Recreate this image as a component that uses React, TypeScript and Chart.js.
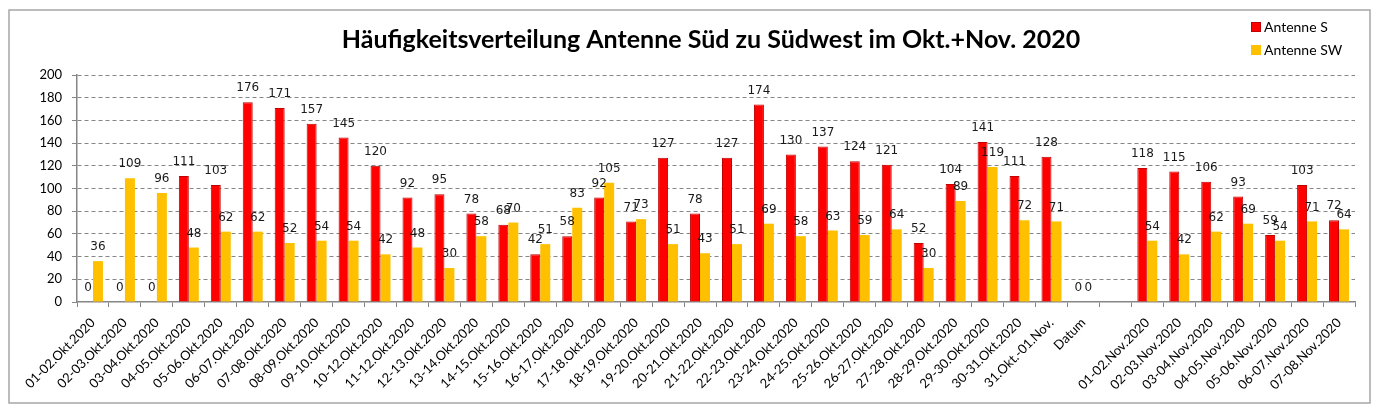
import { useEffect, useRef } from "react";
import { Chart, registerables } from "chart.js";

Chart.register(...registerables);

const TITLE = "Häufigkeitsverteilung Antenne Süd zu Südwest im Okt.+Nov. 2020";

const categories = [
  "01-02.Okt.2020", "02-03.Okt.2020", "03-04.Okt.2020", "04-05.Okt.2020", "05-06.Okt.2020",
  "06-07.Okt.2020", "07-08.Okt.2020", "08-09.Okt.2020", "09-10.Okt.2020", "10-12.Okt.2020",
  "11-12.Okt.2020", "12-13.Okt.2020", "13-14.Okt.2020", "14-15.Okt.2020", "15-16.Okt.2020",
  "16-17.Okt.2020", "17-18.Okt.2020", "18-19.Okt.2020", "19-20.Okt.2020", "20-21.Okt.2020",
  "21-22.Okt.2020", "22-23.Okt.2020", "23-24.Okt.2020", "24-25.Okt.2020", "25-26.Okt.2020",
  "26-27.Okt.2020", "27-28.Okt.2020", "28-29.Okt.2020", "29-30.Okt.2020", "30-31.Okt.2020",
  "31.Okt.-01.Nov.", "Datum", "",
  "01-02.Nov.2020", "02-03.Nov.2020", "03-04.Nov.2020", "04-05.Nov.2020", "05-06.Nov.2020",
  "06-07.Nov.2020", "07-08.Nov.2020",
];

const antenneS: (number | null)[] = [
  0, 0, 0, 111, 103, 176, 171, 157, 145, 120,
  92, 95, 78, 68, 42, 58, 92, 71, 127, 78,
  127, 174, 130, 137, 124, 121, 52, 104, 141, 111,
  128, 0, null,
  118, 115, 106, 93, 59, 103, 72,
];

const antenneSW: (number | null)[] = [
  36, 109, 96, 48, 62, 62, 52, 54, 54, 42,
  48, 30, 58, 70, 51, 83, 105, 73, 51, 43,
  51, 69, 58, 63, 59, 64, 30, 89, 119, 72,
  71, 0, null,
  54, 42, 62, 69, 54, 71, 64,
];

const Y_MIN = 0;
const Y_MAX = 200;
const Y_STEP = 20;

const UI_FONT = "Lato, 'Open Sans', sans-serif";
const LABEL_FONT = "'DejaVu Sans', Verdana, sans-serif";
const AXIS_GRAY = "#868686";

// White page with a thin grey frame around the whole chart
const framePlugin = {
  id: "frame",
  beforeDraw(chart: Chart) {
    const { ctx, width, height } = chart;
    ctx.save();
    ctx.fillStyle = "#ffffff";
    ctx.fillRect(0, 0, width, height);
    ctx.strokeStyle = "#a6a6a6";
    ctx.lineWidth = 1.5;
    ctx.strokeRect(9, 10, width - 18, height - 17);
    ctx.restore();
  },
};

// Bold centred heading above the plot
const titlePlugin = {
  id: "heading",
  afterDraw(chart: Chart) {
    const { ctx } = chart;
    ctx.save();
    ctx.font = `bold 25px ${UI_FONT}`;
    ctx.fillStyle = "#000000";
    ctx.textAlign = "center";
    ctx.textBaseline = "middle";
    ctx.fillText(TITLE, 711, 40);
    ctx.restore();
  },
};

// Legend in the upper right corner, stacked vertically
const legendPlugin = {
  id: "cornerLegend",
  afterDraw(chart: Chart) {
    const { ctx } = chart;
    ctx.save();
    ctx.font = `14px ${UI_FONT}`;
    ctx.textBaseline = "middle";
    ctx.textAlign = "left";
    chart.data.datasets.forEach((ds: any, i: number) => {
      const y = 27 + i * 23;
      ctx.fillStyle = ds.backgroundColor;
      ctx.fillRect(1251, y - 5, 10, 10);
      if (ds.borderWidth) {
        ctx.strokeStyle = ds.borderColor;
        ctx.lineWidth = 1;
        ctx.strokeRect(1251.5, y - 4.5, 9, 9);
      }
      ctx.fillStyle = "#000000";
      ctx.fillText(ds.label, 1264, y);
    });
    ctx.restore();
  },
};

// Value written above each bar
const valueLabelPlugin = {
  id: "valueLabels",
  afterDatasetsDraw(chart: Chart) {
    const { ctx } = chart;
    ctx.save();
    ctx.font = `12px ${LABEL_FONT}`;
    ctx.fillStyle = "#1a1a1a";
    ctx.textAlign = "center";
    ctx.textBaseline = "middle";
    chart.data.datasets.forEach((ds: any, di: number) => {
      const meta = chart.getDatasetMeta(di);
      meta.data.forEach((bar: any, i: number) => {
        const v = ds.data[i];
        if (v === null || v === undefined) return;
        ctx.fillText(String(v), bar.x, bar.y - 14);
      });
    });
    ctx.restore();
  },
};

export default function App() {
  const canvasRef = useRef<HTMLCanvasElement | null>(null);

  useEffect(() => {
    document.body.style.margin = "0";
    const canvas = canvasRef.current;
    if (!canvas) return;

    const chart = new Chart(canvas, {
      type: "bar",
      data: {
        labels: categories,
        datasets: [
          {
            label: "Antenne S",
            data: antenneS,
            backgroundColor: "#ff0000",
            borderColor: "#c00000",
            borderWidth: 1,
            barPercentage: 1,
            categoryPercentage: 0.625,
          },
          {
            label: "Antenne SW",
            data: antenneSW,
            backgroundColor: "#ffc000",
            borderWidth: 0,
            barPercentage: 1,
            categoryPercentage: 0.625,
          },
        ],
      },
      options: {
        responsive: false,
        animation: false,
        devicePixelRatio: 1,
        layout: { padding: { top: 75, right: 24, bottom: 0, left: 0 } },
        plugins: {
          legend: { display: false },
          title: { display: false },
          tooltip: { enabled: false },
        },
        scales: {
          x: {
            type: "category",
            offset: true,
            grid: {
              display: true,
              offset: true,
              drawOnChartArea: false,
              drawTicks: true,
              tickLength: 5,
              tickColor: AXIS_GRAY,
              tickWidth: 1,
              tickBorderDash: [],
            },
            border: { display: true, color: AXIS_GRAY, width: 1.5 },
            ticks: {
              autoSkip: false,
              minRotation: 45,
              maxRotation: 45,
              padding: 8,
              color: "#000000",
              font: { family: UI_FONT, size: 13 },
            },
            afterFit: (scale: any) => {
              scale.height = 108;
            },
          },
          y: {
            min: Y_MIN,
            max: Y_MAX,
            ticks: {
              stepSize: Y_STEP,
              padding: 10,
              color: "#000000",
              font: { family: UI_FONT, size: 13 },
            },
            grid: {
              color: (ctx: any) => (ctx.tick && ctx.tick.value === 0 ? "rgba(0,0,0,0)" : AXIS_GRAY),
              lineWidth: 1,
              drawTicks: true,
              tickLength: 5,
              tickColor: AXIS_GRAY,
              tickWidth: 1,
              tickBorderDash: [],
            },
            border: { display: true, color: AXIS_GRAY, width: 1.5, dash: [4, 3] },
            afterFit: (scale: any) => {
              scale.width = 77;
            },
          },
        },
      },
      plugins: [framePlugin, titlePlugin, legendPlugin, valueLabelPlugin],
    });

    return () => chart.destroy();
  }, []);

  return <canvas ref={canvasRef} width={1379} height={410} style={{ display: "block" }} />;
}
